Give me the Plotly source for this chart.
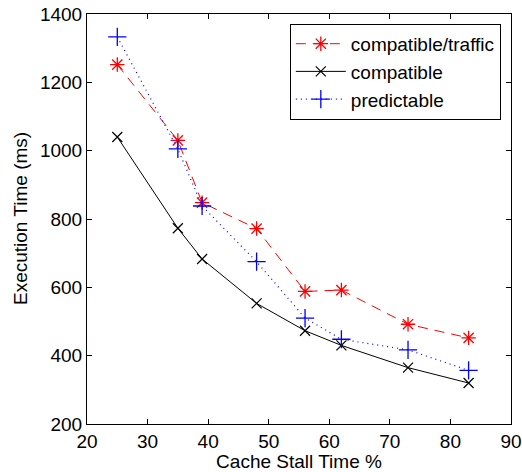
import plotly.graph_objects as go

x = [25, 35, 39, 48, 56, 62, 73, 83]
compat_traffic = [1252, 1030, 848, 772, 588, 592, 492, 452]
compat = [1040, 773, 683, 553, 473, 430, 365, 320]
predictable = [1333, 1005, 838, 675, 510, 448, 417, 357]

FONT = "Liberation Sans, Arial"

fig = go.Figure()
fig.add_trace(go.Scatter(x=x, y=compat_traffic, name="compatible/traffic", mode="lines+markers",
                         line=dict(color="red", dash="10px,7px", width=1),
                         marker=dict(symbol="asterisk-open", size=12, color="red", line=dict(width=1.3, color="red"))))
fig.add_trace(go.Scatter(x=x, y=compat, name="compatible", mode="lines+markers",
                         line=dict(color="black", width=1),
                         marker=dict(symbol="x-thin-open", size=10, color="black", line=dict(width=1.2, color="black"))))
fig.add_trace(go.Scatter(x=x, y=predictable, name="predictable", mode="lines+markers",
                         line=dict(color="blue", dash="1px,4px", width=1.2),
                         marker=dict(symbol="cross-thin-open", size=13, color="blue", line=dict(width=1.3, color="blue"))))

axis_common = dict(showgrid=False, zeroline=False, showline=True, linecolor="black", linewidth=1,
                   mirror="ticks", ticks="inside", ticklen=5, tickcolor="black", automargin=False,
                   tickfont=dict(family=FONT, size=19, color="black"))
fig.update_xaxes(range=[20, 90], dtick=10, title=dict(text="Cache Stall Time %",
                 font=dict(family=FONT, size=19, color="black")), **axis_common)
fig.update_yaxes(range=[200, 1400], dtick=200, **axis_common)

fig.add_annotation(text="Execution Time (ms)", xref="paper", yref="paper", x=-0.158, y=0.5,
                   xanchor="center", yanchor="middle", textangle=-90, showarrow=False,
                   font=dict(family=FONT, size=19, color="black"))

fig.update_layout(width=522, height=472, margin=dict(l=87, r=11, t=14, b=48),
                  paper_bgcolor="white", plot_bgcolor="white",
                  legend=dict(x=0.976, y=0.976, xanchor="right", yanchor="top",
                              bordercolor="black", borderwidth=1, bgcolor="white",
                              font=dict(family=FONT, size=19, color="black"),
                              tracegroupgap=0, itemwidth=50),
                  showlegend=True)
fig.write_html("out.html", post_script="document.body.style.margin='0';",
               config={"displayModeBar": False})
